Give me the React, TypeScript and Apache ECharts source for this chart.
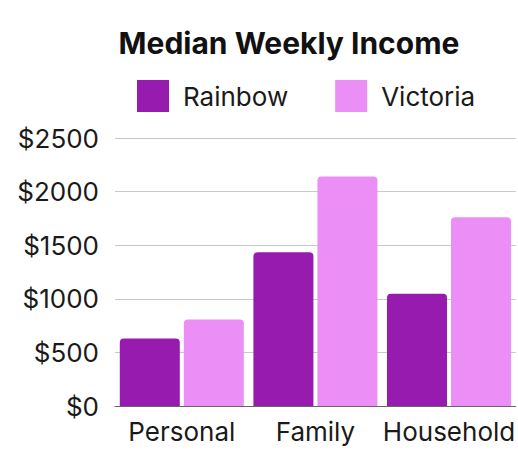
import React, { useEffect, useRef } from "react";
import * as echarts from "echarts";

const categories = ["Personal", "Family", "Household"];
const rainbow = [629, 1434, 1048];
const victoria = [806, 2140, 1760];
const seriesNames = ["Rainbow", "Victoria"];
const yTicks = [0, 500, 1000, 1500, 2000, 2500];

const FONT = "Inter";

export default function App() {
  const ref = useRef<HTMLDivElement>(null);
  useEffect(() => {
    if (!ref.current) return;
    const chart = echarts.init(ref.current, null, { renderer: "svg" });
    chart.setOption({
      animation: false,
      backgroundColor: "#ffffff",
      title: {
        text: "Median Weekly Income",
        left: 284,
        textAlign: "center",
        top: 23,
        textStyle: { fontFamily: FONT, fontSize: 30, fontWeight: "bold", color: "#111" },
      },
      legend: {
        data: seriesNames,
        top: 80,
        left: 137,
        padding: 0,
        itemWidth: 32,
        itemHeight: 32,
        itemGap: 47,
        icon: "rect",
        textStyle: { fontFamily: FONT, fontSize: 26, color: "#1a1a1a", padding: [0, 0, 0, 9] },
      },
      grid: { left: 115, right: 1, top: 138, bottom: 55, containLabel: false },
      xAxis: {
        type: "category",
        data: categories,
        axisTick: { show: false },
        axisLine: { show: true, lineStyle: { color: "#666", width: 1 } },
        axisLabel: { fontFamily: FONT, fontSize: 26, color: "#1a1a1a", margin: 12, interval: 0 },
      },
      yAxis: {
        type: "value",
        min: yTicks[0],
        max: yTicks[yTicks.length - 1],
        interval: 500,
        axisLine: { show: false },
        axisTick: { show: false },
        splitLine: { lineStyle: { color: "#c8c8c8", width: 1 } },
        axisLabel: {
          fontFamily: FONT,
          fontSize: 26,
          color: "#1a1a1a",
          margin: 16,
          formatter: (v: number) => "$" + v,
        },
      },
      series: [
        {
          name: seriesNames[0],
          type: "bar",
          data: rainbow,
          barWidth: 60,
          barGap: "6.7%",
          itemStyle: { color: "#961BAE", borderRadius: [4, 4, 0, 0] },
        },
        {
          name: seriesNames[1],
          type: "bar",
          data: victoria,
          barWidth: 60,
          barGap: "6.7%",
          itemStyle: { color: "#EB8EF5", borderRadius: [4, 4, 0, 0] },
        },
      ],
    });
    return () => chart.dispose();
  }, []);
  return (
    <div
      ref={ref}
      style={{ position: "fixed", left: 0, top: 0, width: 518, height: 461 }}
    />
  );
}
